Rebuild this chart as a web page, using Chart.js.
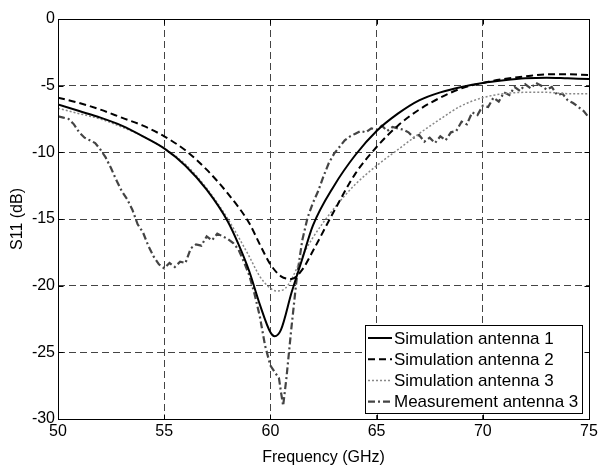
<!DOCTYPE html>
<html><head><meta charset="utf-8">
<script src="https://cdn.jsdelivr.net/npm/chart.js@4/dist/chart.umd.min.js"></script>
<style>html,body{margin:0;padding:0;background:#fff}#wrap{width:598px;height:468px}</style>
</head><body><div id="wrap"><canvas id="c" width="598" height="468"></canvas></div>
<script>
const seriesLabels = ["Simulation antenna 1","Simulation antenna 2","Simulation antenna 3","Measurement antenna 3"];
const xTicks = [50,55,60,65,70,75];
const yTicks = [0,-5,-10,-15,-20,-25,-30];

const sim1F = [50,51,52,53,54,55,56,57,58,58.5,59,59.5,60,60.2,60.5,61,61.5,62,63,64,65,66,67,68,69,70,71,72,73,74,75];
const sim1S = [-6.4,-6.9,-7.4,-8.0,-8.8,-9.7,-11.0,-12.8,-15.2,-16.9,-18.9,-21.4,-23.5,-23.8,-23.3,-20.5,-18.0,-15.5,-12.5,-10.2,-8.4,-7.1,-6.1,-5.5,-5.1,-4.8,-4.6,-4.45,-4.4,-4.45,-4.5];

const sim2F = [50,51,52,53,54,55,56,57,58,59,59.5,60,60.5,61,61.5,62,63,64,65,66,67,68,69,70,71,72,73,74,75];
const sim2S = [-5.9,-6.3,-6.8,-7.4,-8.0,-8.8,-9.85,-11.3,-13.1,-15.3,-16.9,-18.4,-19.3,-19.5,-18.8,-17.4,-14.4,-11.6,-9.6,-8.0,-6.8,-5.9,-5.2,-4.8,-4.5,-4.3,-4.15,-4.15,-4.2];

const sim3F = [50,51,52,53,54,55,56,57,58,59,59.5,60,60.3,60.7,61,61.5,62,63,64,65,66,67,68,69,70,71,72,73,74,75];
const sim3S = [-6.7,-7.1,-7.5,-8.1,-8.8,-9.7,-10.9,-12.7,-15.0,-17.8,-19.3,-20.2,-20.4,-20.2,-19.5,-17.8,-16.4,-14.2,-12.4,-11.0,-9.8,-8.6,-7.5,-6.5,-5.9,-5.6,-5.5,-5.5,-5.6,-5.6];

const measF = [50,50.25,50.5,50.75,51,51.25,51.5,51.75,52,52.25,52.5,52.75,53,53.25,53.5,53.75,54,54.25,54.5,54.75,55,55.25,55.5,55.75,56,56.25,56.5,56.75,57,57.25,57.5,57.75,58,58.25,58.5,58.75,59,59.25,59.5,59.75,60,60.25,60.4,60.5,60.6,60.75,61,61.25,61.5,61.75,62,62.25,62.5,62.75,63,63.25,63.5,63.75,64,64.25,64.5,64.75,65,65.25,65.5,65.75,66,66.25,66.5,66.75,67,67.25,67.5,67.75,68,68.25,68.5,68.75,69,69.25,69.5,69.75,70,70.25,70.5,70.75,71,71.25,71.5,71.75,72,72.25,72.5,72.75,73,73.25,73.5,73.75,74,74.25,74.5,74.75,75];
const measS = [-7.3,-7.4,-7.5,-7.9,-8.5,-8.9,-9.1,-9.3,-9.8,-10.4,-11.2,-12.1,-12.9,-13.5,-14.3,-15.4,-16.0,-17.0,-17.8,-18.4,-18.7,-18.3,-18.6,-18.2,-18.3,-17.2,-16.9,-17.0,-16.3,-16.6,-16.1,-16.3,-16.5,-16.8,-17.3,-18.2,-19.2,-20.6,-22.3,-24.5,-26.0,-26.6,-26.9,-28.0,-29.0,-27.0,-23.0,-19.3,-16.6,-14.9,-13.8,-12.9,-11.8,-10.8,-10.1,-9.6,-9.1,-8.8,-8.6,-8.4,-8.5,-8.2,-8.3,-8.0,-8.4,-8.1,-8.2,-8.3,-8.5,-8.9,-8.7,-9.2,-8.9,-9.3,-8.8,-9.1,-8.5,-8.4,-7.7,-7.9,-7.0,-7.2,-6.5,-6.6,-5.9,-6.2,-5.5,-5.7,-5.1,-5.4,-4.9,-5.2,-4.8,-5.0,-5.3,-5.1,-5.7,-5.6,-6.1,-6.3,-6.6,-6.9,-7.4];

const pts = (f, s) => f.map((v, i) => ({x: v, y: s[i]}));
const FONT = "'Liberation Sans', Arial, sans-serif";

const boxPlugin = {
  id: 'boxAndLegend',
  afterDatasetsDraw(chart) {
    const {ctx, chartArea: a, scales} = chart;
    ctx.save();
    ctx.strokeStyle = '#000'; ctx.lineWidth = 1; ctx.setLineDash([]);
    const L = Math.round(a.left) + 0.5, T = Math.round(a.top) + 0.5, R = Math.round(a.right) + 0.5, B = Math.round(a.bottom) + 0.5;
    ctx.strokeRect(L, T, R - L, B - T);
    ctx.beginPath();
    xTicks.forEach(v => {
      const px = Math.round(scales.x.getPixelForValue(v)) + 0.5;
      ctx.moveTo(px, B); ctx.lineTo(px, B - 5);
      ctx.moveTo(px, T); ctx.lineTo(px, T + 5);
    });
    yTicks.forEach(v => {
      const py = Math.round(scales.y.getPixelForValue(v)) + 0.5;
      ctx.moveTo(L, py); ctx.lineTo(L + 5, py);
      ctx.moveTo(R, py); ctx.lineTo(R - 5, py);
    });
    ctx.stroke();
    const lx = 365, ly = 325, lw = 217, lh = 88;
    ctx.fillStyle = '#fff';
    ctx.fillRect(lx, ly, lw, lh);
    ctx.strokeRect(lx + 0.5, ly + 0.5, lw, lh);
    ctx.font = '17px ' + FONT;
    ctx.textBaseline = 'middle';
    chart.data.datasets.forEach((ds, i) => {
      const y = ly + 13 + i * 21.2;
      ctx.strokeStyle = ds.borderColor; ctx.lineWidth = ds.borderWidth;
      ctx.setLineDash(ds.borderDash || []);
      ctx.beginPath(); ctx.moveTo(368, y); ctx.lineTo(392, y); ctx.stroke();
      ctx.setLineDash([]);
      ctx.fillStyle = '#000';
      ctx.fillText(ds.label, 394, y + 1);
    });
    ctx.restore();
  }
};

new Chart(document.getElementById('c'), {
  type: 'line',
  data: {
    datasets: [
      {label: seriesLabels[0], data: pts(sim1F, sim1S), borderColor: '#000', borderWidth: 2, borderDash: [], cubicInterpolationMode: 'monotone'},
      {label: seriesLabels[1], data: pts(sim2F, sim2S), borderColor: '#000', borderWidth: 2, borderDash: [7, 4], cubicInterpolationMode: 'monotone'},
      {label: seriesLabels[2], data: pts(sim3F, sim3S), borderColor: '#888', borderWidth: 1.5, borderDash: [2, 2], cubicInterpolationMode: 'monotone'},
      {label: seriesLabels[3], data: pts(measF, measS), borderColor: '#444', borderWidth: 2.2, borderDash: [7, 3, 2, 3], tension: 0}
    ]
  },
  options: {
    responsive: false, animation: false, devicePixelRatio: 1,
    elements: {point: {radius: 0}},
    layout: {padding: {left: 0, top: 19, right: 9, bottom: 0}},
    plugins: {legend: {display: false}, tooltip: {enabled: false}},
    scales: {
      x: {
        type: 'linear', min: 50, max: 75,
        afterFit: s => { s.height = 49; s.paddingRight = 0; s.paddingLeft = 0; },
        afterBuildTicks: s => { s.ticks = xTicks.map(v => ({value: v})); },
        grid: {color: '#444', lineWidth: 1, drawTicks: false},
        border: {display: false, dash: [7, 4]},
        ticks: {color: '#000', font: {family: FONT, size: 16}, padding: 3, maxRotation: 0},
        title: {display: true, text: 'Frequency (GHz)', color: '#000', font: {family: FONT, size: 16}, padding: {top: 2, bottom: 1}}
      },
      y: {
        type: 'linear', min: -30, max: 0,
        afterFit: s => { s.width = 58; s.paddingTop = 0; s.paddingBottom = 0; },
        afterBuildTicks: s => { s.ticks = yTicks.map(v => ({value: v})); },
        grid: {color: '#444', lineWidth: 1, drawTicks: false},
        border: {display: false, dash: [7, 4]},
        ticks: {color: '#000', font: {family: FONT, size: 16}, padding: 3},
        title: {display: true, text: 'S11 (dB)', color: '#000', font: {family: FONT, size: 16}, padding: {top: 8, bottom: 0}}
      }
    }
  },
  plugins: [boxPlugin]
});
</script></body></html>
